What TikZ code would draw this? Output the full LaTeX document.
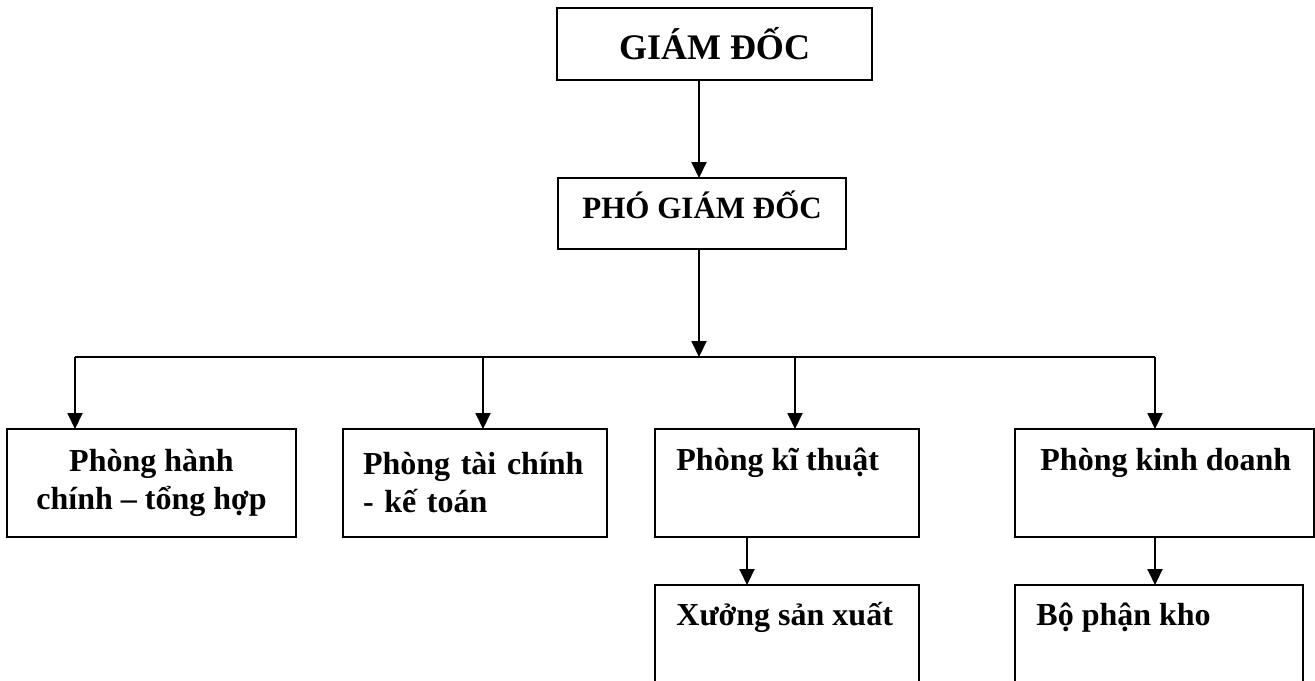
\documentclass[tikz,border=0pt]{standalone}
\usepackage{fontspec}
\setmainfont{Liberation Serif}
\usetikzlibrary{arrows.meta}
\tikzset{
  box/.style={draw, rectangle, line width=1pt, inner sep=0pt, outer sep=0pt},
  lbl/.style={inner sep=0pt, font=\bfseries\fontsize{16pt}{19pt}\selectfont},
  link/.style={line width=1pt, -{Triangle[width=7.5pt,length=8pt]}}
}
\begin{document}
\begin{tikzpicture}[x=0.5pt,y=-0.5pt]
  \useasboundingbox (0,0) rectangle (1315,680);
  \clip (0,0) rectangle (1315,680);
  % boxes
  \node[box, minimum width=157.5pt, minimum height=36pt,
        font=\bfseries\fontsize{18pt}{21pt}\selectfont] (gd) at (714.5,44) {GIÁM ĐỐC};
  \node[box, minimum width=144pt, minimum height=35.5pt] (pho) at (702,213.5) {};
  \node[box, lbl, minimum width=144.5pt, minimum height=54pt, align=center] (hc) at (151.5,483)
        {Phòng hành\\chính – tổng hợp};
  \node[box, lbl, minimum width=132pt, minimum height=54pt, text width=112pt, align=left] (tc) at (475,483)
        {Phòng tài chính\\- kế toán};
  \node[box, minimum width=132pt, minimum height=54pt] (kt) at (787,483) {};
  \node[box, minimum width=149.5pt, minimum height=54pt] (kd) at (1164.5,483) {};
  \node[box, minimum width=132pt, minimum height=57.5pt] (xs) at (787,642.5) {};
  \node[box, minimum width=144pt, minimum height=57.5pt] (kho) at (1159,642.5) {};
  % texts
  \node[lbl, font=\bfseries\fontsize{15.5pt}{18pt}\selectfont, anchor=base west] (pho-t) at (582,218) {PHÓ GIÁM ĐỐC};
  \node[lbl, anchor=base west] (kt-t) at (676,470) {Phòng kĩ thuật};
  \node[lbl, anchor=base west] (kd-t) at (1040,470) {Phòng kinh doanh};
  \node[lbl, anchor=base west] (xs-t) at (676,625) {Xưởng sản xuất};
  \node[lbl, anchor=base west] (kho-t) at (1036,625) {Bộ phận kho};
  % joints
  \coordinate (spine) at (699,357);
  \coordinate (j1) at (75,357);
  \coordinate (j2) at (483,357);
  \coordinate (j3) at (795,357);
  \coordinate (j4) at (1155,357);
  \coordinate (d3) at (747,560);
  \coordinate (d4) at (1155,560);
  \draw[line width=1pt] (j1) -- (j4);
  \begin{scope}[link]
    \draw (spine |- gd.south) -- (spine |- pho.north);
    \draw (spine |- pho.south) -- (spine);
    \foreach \j/\b in {j1/hc, j2/tc, j3/kt, j4/kd}
      \draw (\j) -- (\j |- \b.north);
    \draw (d3 |- kt.south) -- (d3 |- xs.north);
    \draw (d4 |- kd.south) -- (d4 |- kho.north);
  \end{scope}
\end{tikzpicture}
\end{document}
